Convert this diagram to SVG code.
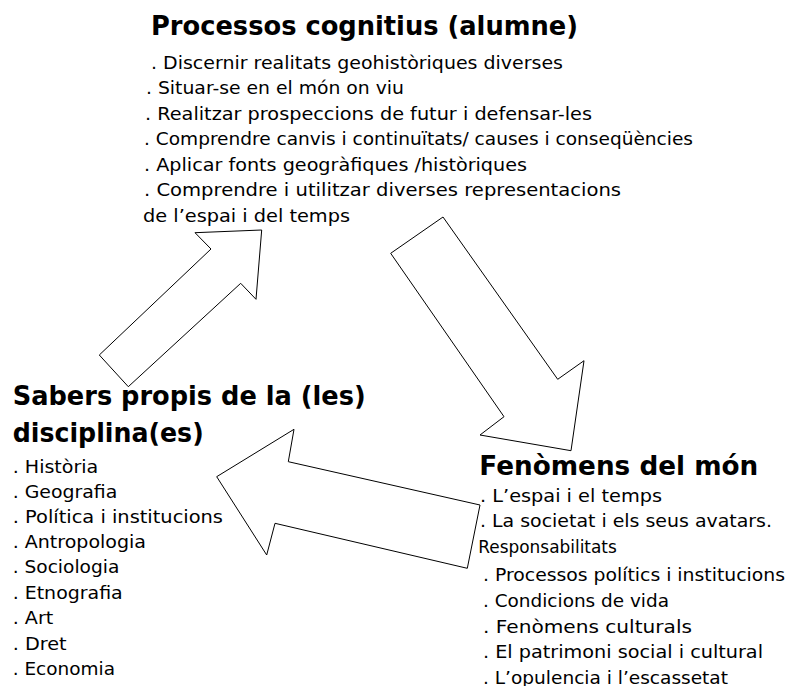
<svg xmlns="http://www.w3.org/2000/svg" width="790" height="686" viewBox="0 0 790 686">
<style>
text{font-family:"DejaVu Sans","Liberation Sans",sans-serif;fill:#000}
.t{font-weight:bold;font-size:26px}
.b{font-size:17.5px}
.arrow{fill:#fff;stroke:#000;stroke-width:1}
</style>
<rect width="790" height="686" fill="#fff"/>
<g id="connectors">
<polygon class="arrow" points="99.3,355 211,249 195,232.7 261.7,230 256,299.3 240.7,283.3 128.3,386.7"/>
<polygon class="arrow" points="443,217 390.7,253.3 504,416.7 480,435 571,450.7 584,360.7 557.7,379.3"/>
<polygon class="arrow" points="216.7,476.7 294,429.3 288.3,461.7 480,505 467.3,568.3 275,523.3 266.7,555"/>
</g>
<g id="processos">
<text class="t" x="151" y="34.5" textLength="427" lengthAdjust="spacingAndGlyphs">Processos cognitius (alumne)</text>
<text class="b" x="151" y="68.5" textLength="412" lengthAdjust="spacingAndGlyphs">. Discernir realitats geohistòriques diverses</text>
<text class="b" x="146" y="94" textLength="258" lengthAdjust="spacingAndGlyphs">. Situar-se en el món on viu</text>
<text class="b" x="145" y="119.5" textLength="447" lengthAdjust="spacingAndGlyphs">. Realitzar prospeccions de futur i defensar-les</text>
<text class="b" x="144" y="145" textLength="549" lengthAdjust="spacingAndGlyphs">. Comprendre canvis i continuïtats/ causes i conseqüències</text>
<text class="b" x="144" y="170.5" textLength="383" lengthAdjust="spacingAndGlyphs">. Aplicar fonts geogràfiques /històriques</text>
<text class="b" x="144" y="196" textLength="477" lengthAdjust="spacingAndGlyphs">. Comprendre i utilitzar diverses representacions</text>
<text class="b" x="143" y="221.5" textLength="207" lengthAdjust="spacingAndGlyphs">de l’espai i del temps</text>
</g>
<g id="sabers">
<text class="t" x="12.7" y="405" style="font-size:27px" textLength="353" lengthAdjust="spacingAndGlyphs">Sabers propis de la (les)</text>
<text class="t" x="12.7" y="442" style="font-size:27px" textLength="191" lengthAdjust="spacingAndGlyphs">disciplina(es)</text>
<text class="b" x="12.7" y="472.5" textLength="85.6" lengthAdjust="spacingAndGlyphs">. Història</text>
<text class="b" x="12.7" y="497.5" textLength="104.6" lengthAdjust="spacingAndGlyphs">. Geografia</text>
<text class="b" x="12.7" y="522.5" textLength="210.3" lengthAdjust="spacingAndGlyphs">. Política i institucions</text>
<text class="b" x="12.7" y="548" textLength="133.3" lengthAdjust="spacingAndGlyphs">. Antropologia</text>
<text class="b" x="12.7" y="573" textLength="106.6" lengthAdjust="spacingAndGlyphs">. Sociologia</text>
<text class="b" x="12.7" y="598.5" textLength="110" lengthAdjust="spacingAndGlyphs">. Etnografia</text>
<text class="b" x="12.7" y="624" textLength="40.6" lengthAdjust="spacingAndGlyphs">. Art</text>
<text class="b" x="12.7" y="649.5" textLength="54" lengthAdjust="spacingAndGlyphs">. Dret</text>
<text class="b" x="12.7" y="675" textLength="102.3" lengthAdjust="spacingAndGlyphs">. Economia</text>
</g>
<g id="fenomens">
<text class="t" x="479.3" y="475" style="font-size:27px" textLength="279" lengthAdjust="spacingAndGlyphs">Fenòmens del món</text>
<text class="b" x="480" y="501.7" textLength="182" lengthAdjust="spacingAndGlyphs">. L’espai i el temps</text>
<text class="b" x="480" y="527.3" textLength="292" lengthAdjust="spacingAndGlyphs">. La societat i els seus avatars.</text>
<text class="b" x="478.3" y="552.5" textLength="138.5" lengthAdjust="spacingAndGlyphs">Responsabilitats</text>
<text class="b" x="483" y="581" textLength="302" lengthAdjust="spacingAndGlyphs">. Processos polítics i institucions</text>
<text class="b" x="483" y="607" textLength="186" lengthAdjust="spacingAndGlyphs">. Condicions de vida</text>
<text class="b" x="483" y="632.5" textLength="209" lengthAdjust="spacingAndGlyphs">. Fenòmens culturals</text>
<text class="b" x="483" y="658" textLength="280" lengthAdjust="spacingAndGlyphs">. El patrimoni social i cultural</text>
<text class="b" x="483" y="683.5" textLength="245" lengthAdjust="spacingAndGlyphs">. L’opulencia i l’escassetat</text>
</g>
</svg>
